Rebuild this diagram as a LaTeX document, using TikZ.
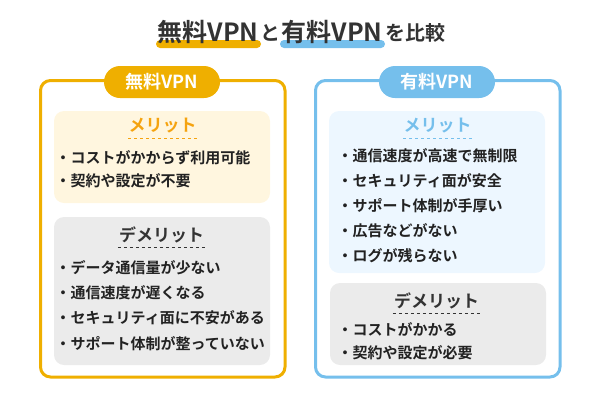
\documentclass[tikz,border=0pt]{standalone}
\usepackage{fontspec}
\setmainfont{Noto Sans CJK JP}[BoldFont={Noto Sans CJK JP Bold}]
\usepackage{xcolor}
\usetikzlibrary{positioning}

\definecolor{freeorange}{HTML}{EFAF00}
\definecolor{paidblue}{HTML}{75BFEC}
\definecolor{freeback}{HTML}{FFF6DF}
\definecolor{paidback}{HTML}{EDF7FF}
\definecolor{conback}{HTML}{EBEBEB}
\definecolor{meritorange}{HTML}{F5A30F}
\definecolor{inkdark}{HTML}{333333}
\definecolor{inklist}{HTML}{222222}

\tikzset{
    panel/.style={line width=3pt, rounded corners=10pt},
    inner/.style={rounded corners=10pt},
    underbar/.style={rounded corners=4pt},
    pill/.style={rounded corners=16pt, minimum width=116pt, minimum height=32pt, inner sep=0pt,
                 text=white, font=\fontsize{18}{18}\selectfont\bfseries},
    heading/.style={inner sep=0pt, minimum height=24pt, font=\fontsize{17}{17}\selectfont\bfseries},
    item/.style={anchor=west, inner sep=0pt, text=inklist, font=\fontsize{15}{15}\selectfont\bfseries},
    rule/.style={dash pattern=on 3pt off 3pt, line width=0.6pt}
}

\begin{document}
\begin{tikzpicture}[x=1pt, y=-1pt]
            \path[use as bounding box] (0,0) rectangle (600,400);

            % title
            \fill[underbar, freeorange] (156,40) rectangle (261,48);
            \fill[underbar, paidblue] (280,40) rectangle (385,48);
            \node (titlefree) [inner sep=0pt, text=inkdark, font=\fontsize{25}{25}\selectfont\bfseries] at (208,32) {無料VPN};
            \node (titleto) [inner sep=0pt, text=inkdark, font=\fontsize{20}{20}\selectfont\bfseries] at (270,33) {と};
            \node (titlepaid) [inner sep=0pt, text=inkdark, font=\fontsize{25}{25}\selectfont\bfseries] at (332,32) {有料VPN};
            \node (titlecmp) [inner sep=0pt, text=inkdark, font=\fontsize{20}{20}\selectfont\bfseries] at (415,33) {を比較};

            % panels
            \draw[panel, freeorange] (40.5,80.5) rectangle (285,377);
            \draw[panel, paidblue] (315.5,80.5) rectangle (560,377);
            \node (freepill) [pill, fill=freeorange] at (162,82) {無料VPN};
            \node (paidpill) [pill, fill=paidblue] at (437,82) {有料VPN};

            \fill[inner, freeback] (54,111) rectangle (270,203);
            \fill[inner, conback] (54,217) rectangle (270,365);
            \fill[inner, paidback] (329,111) rectangle (545,273);
            \fill[inner, conback] (330,283) rectangle (546,365);

            % free side
            \node (freemerit) [heading, text=meritorange, minimum width=67pt] at (162.5,126) {メリット};
            \draw[rule, meritorange] (freemerit.south west) -- (freemerit.south east);
            \node (fm1) [item] at (55.5,158) {・コストがかからず利用可能};
            \node (fm2) [item] at (55.5,181) {・契約や設定が不要};

            \node (freecon) [heading, text=inkdark, minimum width=87pt] at (161.5,235) {デメリット};
            \draw[rule, inkdark] (freecon.south west) -- (freecon.south east);
            \node (fc1) [item] at (55.5,268) {・データ通信量が少ない};
            \node (fc2) [item] at (55.5,293) {・通信速度が遅くなる};
            \node (fc3) [item] at (55.5,318) {・セキュリティ面に不安がある};
            \node (fc4) [item] at (55.5,343.5) {・サポート体制が整っていない};

            % paid side
            \node (paidmerit) [heading, text=paidblue, minimum width=67pt] at (437.5,126) {メリット};
            \draw[rule, paidblue] (paidmerit.south west) -- (paidmerit.south east);
            \node (pm1) [item] at (337.5,156) {・通信速度が高速で無制限};
            \node (pm2) [item] at (337.5,181) {・セキュリティ面が安全};
            \node (pm3) [item] at (337.5,206) {・サポート体制が手厚い};
            \node (pm4) [item] at (337.5,231) {・広告などがない};
            \node (pm5) [item] at (337.5,256) {・ログが残らない};

            \node (paidcon) [heading, text=inkdark, minimum width=87pt] at (436.5,301) {デメリット};
            \draw[rule, inkdark] (paidcon.south west) -- (paidcon.south east);
            \node (pc1) [item] at (337.5,329) {・コストがかかる};
            \node (pc2) [item] at (337.5,353) {・契約や設定が必要};
\end{tikzpicture}
\end{document}
